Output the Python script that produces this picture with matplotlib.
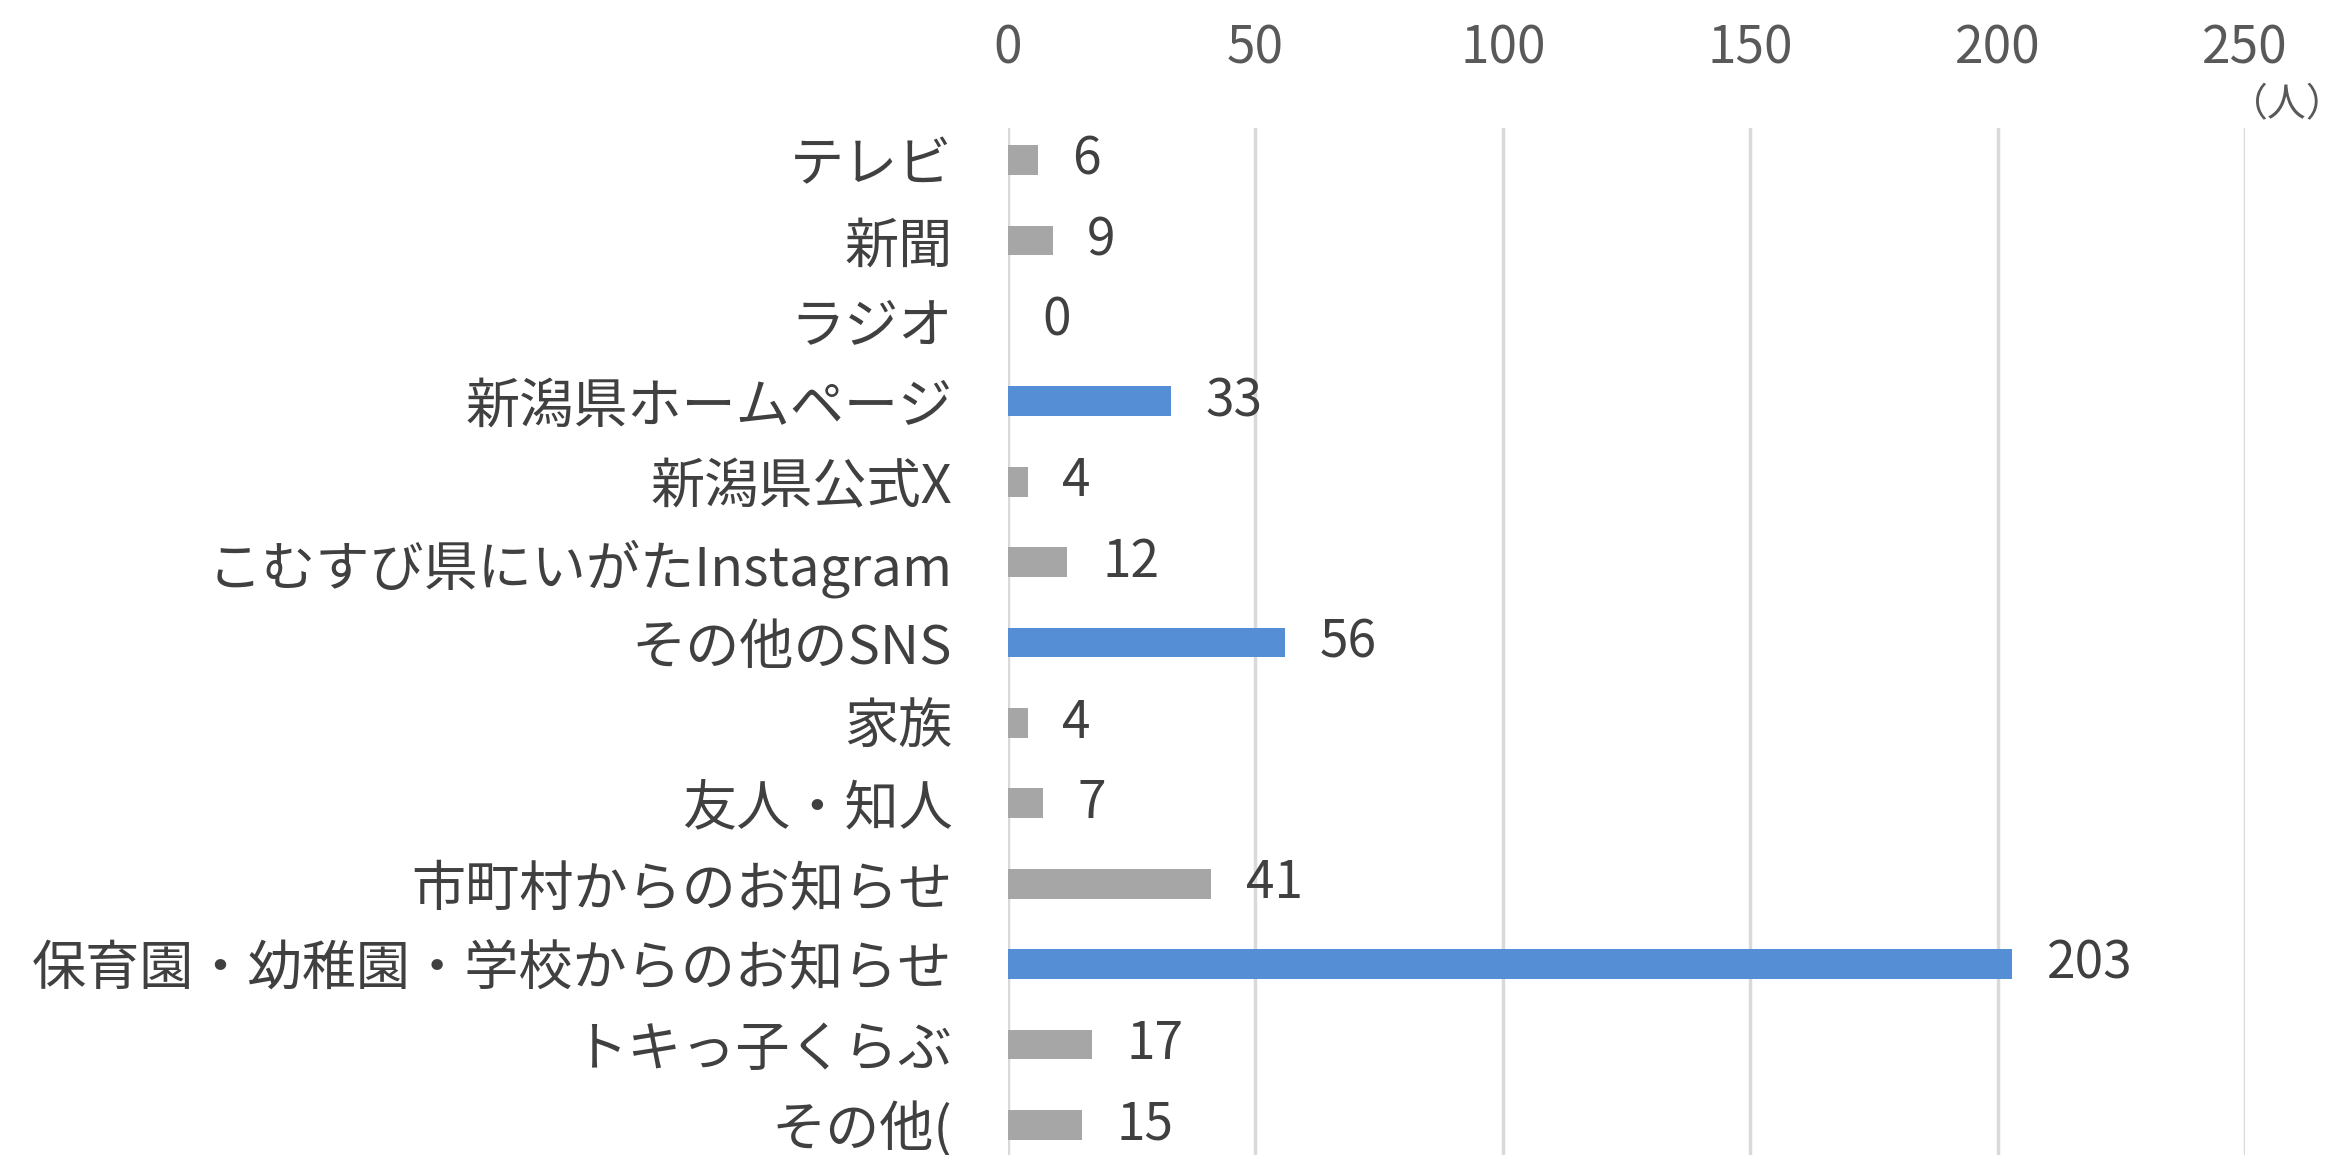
import matplotlib
matplotlib.use("Agg")
import matplotlib.pyplot as plt

plt.rcParams['font.family'] = ['Noto Sans CJK JP', 'DejaVu Sans']

# data
labels = ["テレビ", "新聞", "ラジオ", "新潟県ホームページ", "新潟県公式X",
          "こむすび県にいがたInstagram", "その他のSNS", "家族", "友人・知人",
          "市町村からのお知らせ", "保育園・幼稚園・学校からのお知らせ",
          "トキっ子くらぶ", "その他("]
values = [6, 9, 0, 33, 4, 12, 56, 4, 7, 41, 203, 17, 15]
highlight = ["新潟県ホームページ", "その他のSNS", "保育園・幼稚園・学校からのお知らせ"]
x_ticks = [0, 50, 100, 150, 200, 250]

BLUE = "#558ED5"
GREY = "#A6A6A6"
TEXT = "#404040"

W, H = 2351, 1155
fig = plt.figure(figsize=(W / 100, H / 100), dpi=100)
fig.patch.set_facecolor("white")

left, right = 1008 / W, 2245 / W
top, bottom = 1 - 128 / H, 1 - 1165 / H
ax = fig.add_axes([left, bottom, right - left, top - bottom])

pos = list(range(len(labels)))
colors = [BLUE if lab in highlight else GREY for lab in labels]
ax.barh(pos, values, height=0.37, color=colors, zorder=3)

for p, v in zip(pos, values):
    ax.text(v + 7, p, str(v), va="center", ha="left", fontsize=37, color=TEXT)

ax.set_xlim(0, 250)
ax.set_ylim(12.5, -0.4)
ax.set_xticks(x_ticks)
ax.xaxis.tick_top()
ax.tick_params(axis="x", length=0, pad=38, labelsize=37, labelcolor="#595959")
ax.set_yticks(pos)
ax.set_yticklabels(labels)
ax.tick_params(axis="y", length=0, pad=40, labelsize=39, labelcolor=TEXT)

ax.grid(axis="x", color="#D9D9D9", linewidth=2.5, zorder=0)
ax.grid(axis="y", visible=False)
for s in ax.spines.values():
    s.set_visible(False)

fig.text(2346 / W, 1 - 105 / H, "（人）", ha="right", va="center",
         fontsize=28, color="#595959")

fig.savefig("out.png", dpi=100)
